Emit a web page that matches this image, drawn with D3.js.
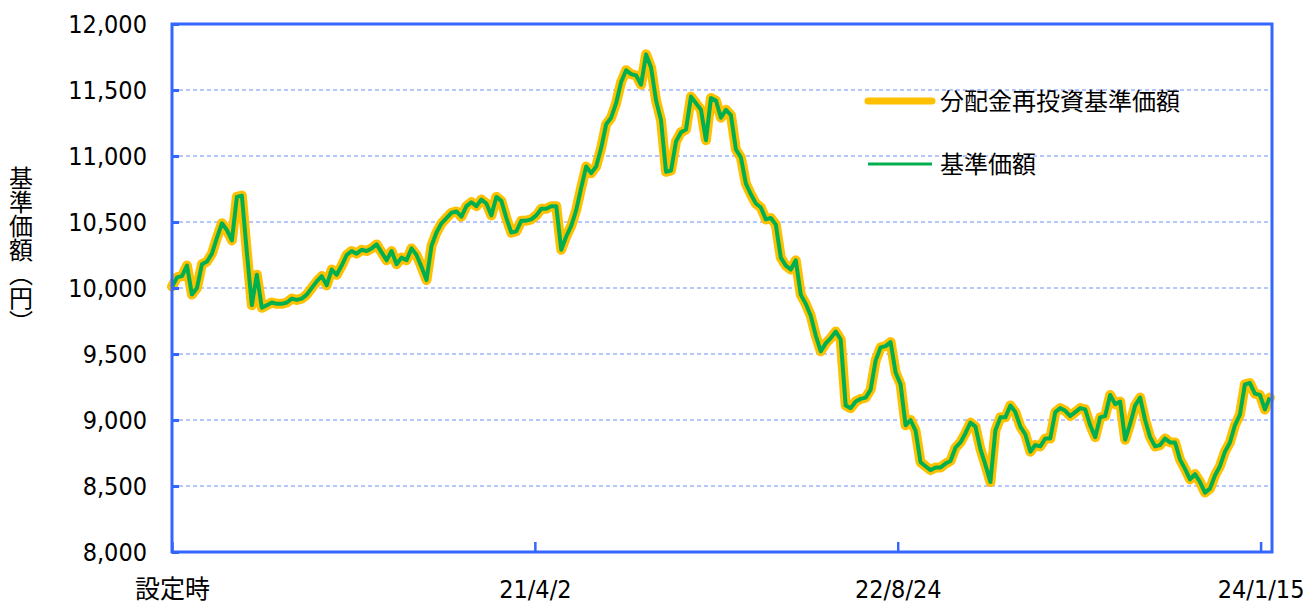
<!DOCTYPE html>
<html>
<head>
<meta charset="utf-8">
<script src="https://cdn.jsdelivr.net/npm/d3@7"></script>
<style>
  html, body { margin: 0; padding: 0; background: #fff; }
  svg { display: block; }
  .num { font-family: "DejaVu Sans Condensed", "DejaVu Sans", "Noto Sans CJK JP", sans-serif; font-stretch: condensed; }
  .jp { font-family: "Noto Sans CJK JP", sans-serif; }
</style>
</head>
<body>
<div id="main"></div>
<script>
// 基準価額 (週次, 設定時から)
var navValues = [
  10010, 10080, 10090, 10170, 9950, 10000, 10180, 10200, 10260, 10380,
  10490, 10440, 10360, 10690, 10700, 10270, 9870, 10100, 9850, 9870,
  9890, 9880, 9880, 9890, 9920, 9910, 9920, 9950, 10000, 10050,
  10090, 10020, 10140, 10100, 10170, 10250, 10280, 10260, 10290, 10280,
  10300, 10330, 10270, 10210, 10280, 10180, 10230, 10210, 10300, 10250,
  10160, 10060, 10320, 10420, 10490, 10530, 10570, 10580, 10540, 10620,
  10650, 10620, 10670, 10640, 10550, 10690, 10660, 10530, 10420, 10430,
  10510, 10510, 10520, 10550, 10600, 10600, 10620, 10620, 10290, 10390,
  10470, 10590, 10760, 10920, 10870, 10920, 11060, 11240, 11290, 11400,
  11560, 11650, 11620, 11610, 11540, 11770, 11670, 11420, 11270, 10880,
  10890, 11110, 11180, 11200, 11450, 11400, 11350, 11120, 11440, 11420,
  11290, 11350, 11310, 11050, 10990, 10790, 10710, 10640, 10610, 10520,
  10530, 10480, 10230, 10170, 10140, 10210, 9950, 9880, 9790, 9640,
  9520, 9580, 9620, 9670, 9610, 9110, 9090, 9140, 9160, 9170,
  9230, 9450, 9550, 9560, 9590, 9360, 9270, 8960, 9000, 8920,
  8680, 8650, 8620, 8640, 8640, 8670, 8690, 8790, 8830, 8900,
  8980, 8950, 8780, 8660, 8530, 8920, 9020, 9020, 9110, 9060,
  8950, 8890, 8760, 8810, 8800, 8860, 8860, 9060, 9090, 9070,
  9030, 9060, 9090, 9080, 8960, 8870, 9020, 9030, 9190, 9120,
  9140, 8850, 8970, 9110, 9170, 9000, 8870, 8800, 8810, 8860,
  8830, 8830, 8700, 8630, 8550, 8590, 8530, 8450, 8480, 8580,
  8650, 8760, 8830, 8960, 9040, 9270, 9280, 9200, 9190, 9080,
  9170
];

// 分配金再投資基準価額 (分配実績なしのため基準価額と同じ)
var reinvestValues = navValues.slice();

var startDate = '2019-11-10';
var endDate = '2024-01-31';

var tickDates = ['2019-11-10', '2021-04-02', '2022-08-24', '2024-01-15'];
var tickLabels = ['設定時', '21/4/2', '22/8/24', '24/1/15'];

var yTicks = [8000, 8500, 9000, 9500, 10000, 10500, 11000, 11500, 12000];

var seriesNames = ['分配金再投資基準価額', '基準価額'];


function create_chart() {

  var width = 1307;
  var height = 603;

  var left = 172, right = 1272, top = 24, bottom = 552;

  var axisColor = '#3366ff';

  var parse = d3.timeParse('%Y-%m-%d');

  var start = parse(startDate);

  var svg = d3.select('#main').append('svg')
    .attr('width', width)
    .attr('height', height);

  var x = d3.scaleTime()
    .domain([start, parse(endDate)])
    .range([left, right]);

  var y = d3.scaleLinear()
    .domain([8000, 12000])
    .range([bottom, top]);

  function toPoints(values) {
    return values.map(function (v, i) {
      return {date: d3.timeDay.offset(start, i * 7), value: v};
    });
  }

  // grid
  svg.append('g')
    .selectAll('line')
    .data(yTicks.slice(1, -1))
    .enter()
    .append('line')
    .attr('x1', left)
    .attr('x2', right)
    .attr('y1', function (d) { return y(d); })
    .attr('y2', function (d) { return y(d); })
    .attr('stroke', '#6f8fff')
    .attr('stroke-width', 1.2)
    .attr('stroke-dasharray', '4,3');

  var line = d3.line()
    .x(function (d) { return x(d.date); })
    .y(function (d) { return y(d.value); });

  svg.append('path')
    .datum(toPoints(reinvestValues))
    .attr('fill', 'none')
    .attr('stroke', '#ffc000')
    .attr('stroke-width', 10)
    .attr('stroke-linejoin', 'round')
    .attr('stroke-linecap', 'round')
    .attr('d', line);

  svg.append('path')
    .datum(toPoints(navValues))
    .attr('fill', 'none')
    .attr('stroke', '#00b050')
    .attr('stroke-width', 4)
    .attr('stroke-linejoin', 'round')
    .attr('d', line);

  // frame
  svg.append('rect')
    .attr('x', left)
    .attr('y', top)
    .attr('width', right - left)
    .attr('height', bottom - top)
    .attr('fill', 'none')
    .attr('stroke', axisColor)
    .attr('stroke-width', 3);

  // y axis
  var yAxis = svg.append('g')
    .attr('class', 'num')
    .attr('transform', 'translate(' + left + ',0)')
    .call(d3.axisLeft(y)
      .tickValues(yTicks)
      .tickSize(-7)
      .tickPadding(25)
      .tickFormat(d3.format(',')));

  yAxis.select('.domain').remove();
  yAxis.selectAll('line').attr('stroke', axisColor).attr('stroke-width', 3);
  yAxis.selectAll('text').attr('font-size', 25).attr('fill', '#000');

  // x axis
  var xAxis = svg.append('g')
    .attr('class', 'num')
    .attr('transform', 'translate(0,' + bottom + ')')
    .call(d3.axisBottom(x)
      .tickValues(tickDates.map(parse))
      .tickSize(-10)
      .tickPadding(28)
      .tickFormat(function (d, i) { return tickLabels[i]; }));

  xAxis.select('.domain').remove();
  xAxis.selectAll('line').attr('stroke', axisColor).attr('stroke-width', 2.5);
  xAxis.selectAll('text').attr('font-size', 25).attr('fill', '#000');

  // y title
  svg.append('text')
    .attr('class', 'jp')
    .attr('x', 21)
    .attr('y', 250)
    .attr('font-size', 24)
    .attr('text-anchor', 'middle')
    .style('writing-mode', 'vertical-rl')
    .text('基準価額（円）');

  // legend
  var legend = svg.append('g').attr('class', 'jp');

  var legendStyles = [
    {color: '#ffc000', width: 7, y: 101},
    {color: '#00b050', width: 3, y: 164}
  ];

  seriesNames.forEach(function (name, i) {

    var s = legendStyles[i];

    legend.append('line')
      .attr('x1', 868)
      .attr('x2', 932)
      .attr('y1', s.y)
      .attr('y2', s.y)
      .attr('stroke', s.color)
      .attr('stroke-width', s.width)
      .attr('stroke-linecap', i === 0 ? 'round' : 'butt');

    legend.append('text')
      .attr('x', 940)
      .attr('y', s.y)
      .attr('dy', '0.36em')
      .attr('font-size', 24)
      .attr('fill', '#000')
      .text(name);
  });
}

create_chart();
</script>
</body>
</html>
